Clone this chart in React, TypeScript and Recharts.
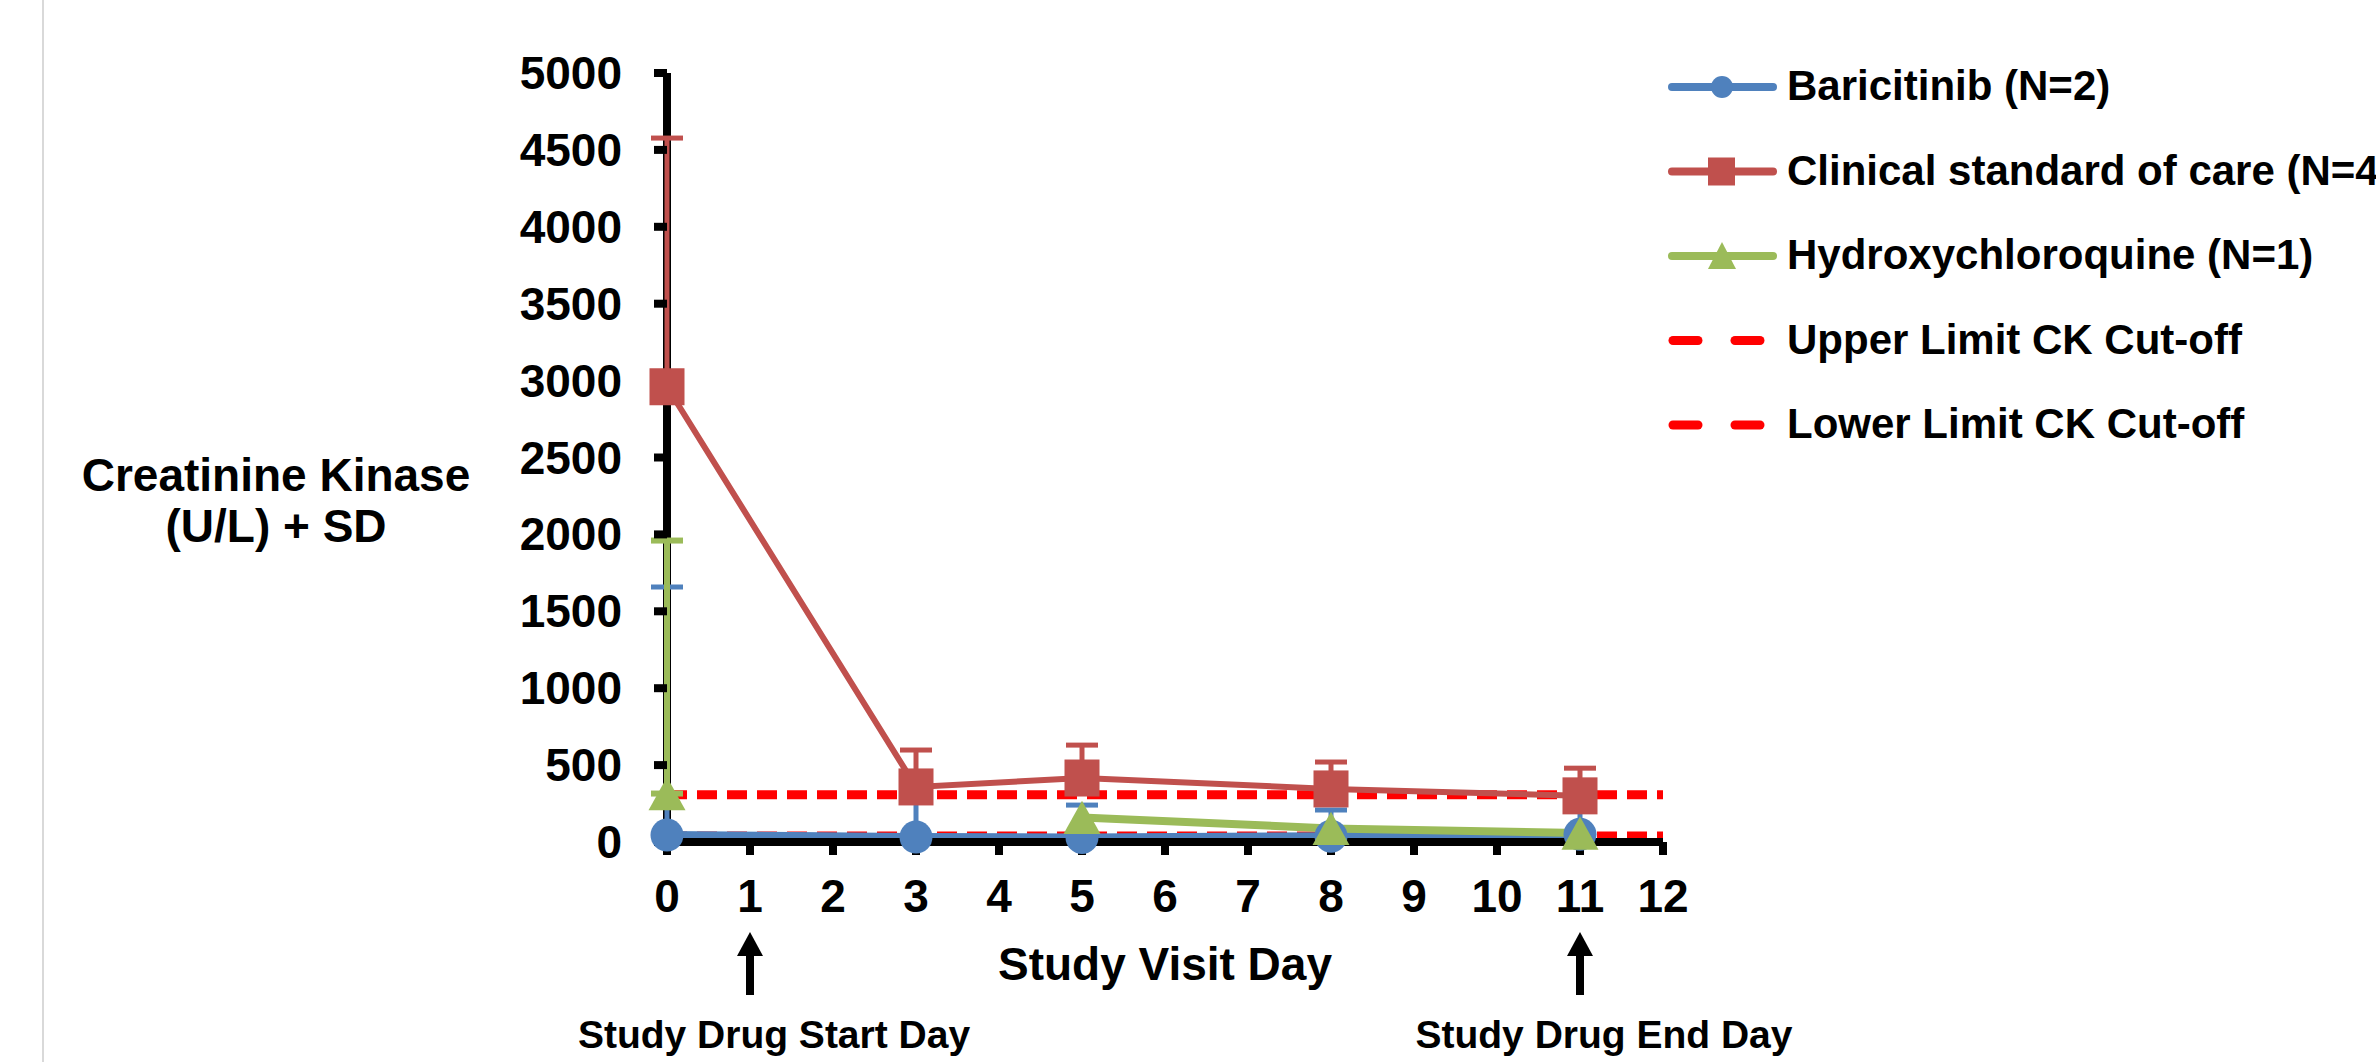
import React from 'react'
import { LineChart, Line, XAxis, YAxis, ErrorBar, ReferenceLine, Legend } from 'recharts'

const days = [0, 3, 5, 8, 11]
const baricitinib = [45, 32, 30, 38, 50]
const baricitinibSD = [1613, 270, 210, 170, 220]
const standardCare = [2960, 358, 416, 345, 300]
const standardCareSD = [1617, 240, 214, 175, 180]
const hydroxychloroquine = [315, null, 160, 88, 58]
const hydroxychloroquineSD = [1645, null, null, null, null]

const upperCutoff = 308
const lowerCutoff = 39

const xTicks = [0, 1, 2, 3, 4, 5, 6, 7, 8, 9, 10, 11, 12]
const yTicks = [0, 500, 1000, 1500, 2000, 2500, 3000, 3500, 4000, 4500, 5000]

const annotations = [
  { day: 1, text: 'Study Drug Start Day' },
  { day: 11, text: 'Study Drug End Day' },
]

const BLUE = '#4F81BD'
const RED = '#C0504D'
const GREEN = '#9BBB59'
const CUTOFF = '#FF0000'
const FONT = '"Liberation Sans", Arial, sans-serif'

const legendItems = [
  { label: 'Baricitinib (N=2)', color: BLUE, marker: 'circle' },
  { label: 'Clinical standard of care (N=4)', color: RED, marker: 'square' },
  { label: 'Hydroxychloroquine (N=1)', color: GREEN, marker: 'triangle' },
  { label: 'Upper Limit CK Cut-off', color: CUTOFF, marker: 'dash' },
  { label: 'Lower Limit CK Cut-off', color: CUTOFF, marker: 'dash' },
]

const data = days.map((day, i) => ({
  day,
  bari: baricitinib[i],
  bariErr: [0, baricitinibSD[i]],
  soc: standardCare[i],
  socErr: [0, standardCareSD[i]],
  hcq: hydroxychloroquine[i],
  hcqErr: hydroxychloroquineSD[i] == null ? null : [0, hydroxychloroquineSD[i]],
}))

function marker(kind: string, color: string, size: number) {
  return (props: any) => {
    const { cx, cy, index } = props
    if (cx == null || cy == null || props.value == null) return <g key={`m-${kind}-${index}`} />
    if (kind === 'circle') {
      return <circle key={`m-${kind}-${index}`} cx={cx} cy={cy} r={size / 2} fill={color} />
    }
    if (kind === 'square') {
      return <rect key={`m-${kind}-${index}`} x={cx - size / 2} y={cy - size / 2 - 1} width={size} height={size + 2} fill={color} />
    }
    const h = size * 0.9
    return (
      <path
        key={`m-${kind}-${index}`}
        d={`M${cx},${cy - h / 2} L${cx + size / 2},${cy + h / 2} L${cx - size / 2},${cy + h / 2} Z`}
        fill={color}
      />
    )
  }
}

const XTick = (props: any) => {
  const { x, y, payload } = props
  const note = annotations.find((a) => a.day === payload.value)
  return (
    <g>
      <text x={x} y={y + 57} textAnchor="middle" fontSize={46} fontWeight={700} fontFamily={FONT} fill="#000">
        {payload.value}
      </text>
      {note && (
        <g>
          <rect x={x - 4} y={y + 95} width={8} height={45} fill="#000" />
          <path d={`M${x},${y + 77} L${x + 13},${y + 101} L${x - 13},${y + 101} Z`} fill="#000" />
          <text x={x + 24} y={y + 193} textAnchor="middle" fontSize={39} fontWeight={700} fontFamily={FONT} fill="#000">
            {note.text}
          </text>
        </g>
      )}
    </g>
  )
}

const YTick = (props: any) => {
  const { x, y, payload } = props
  return (
    <text x={x - 32} y={y + 16} textAnchor="end" fontSize={46} fontWeight={700} fontFamily={FONT} fill="#000">
      {payload.value}
    </text>
  )
}

const YLabel = (props: any) => {
  const vb = props.viewBox
  const cx = vb.x - 271
  const mid = vb.y + vb.height / 2
  return (
    <text textAnchor="middle" fontSize={46} fontWeight={700} fontFamily={FONT} fill="#000">
      <tspan x={cx} y={mid + 33}>Creatinine Kinase</tspan>
      <tspan x={cx} y={mid + 84}>(U/L) + SD</tspan>
    </text>
  )
}

const XLabel = (props: any) => {
  const vb = props.viewBox
  return (
    <text x={vb.x + vb.width / 2} y={vb.y + 138} textAnchor="middle" fontSize={46} fontWeight={700} fontFamily={FONT} fill="#000">
      Study Visit Day
    </text>
  )
}

const LegendBox = () => (
  <svg width={736} height={440} style={{ overflow: 'hidden', display: 'block' }}>
    {legendItems.map((item, i) => {
      const cy = 47 + i * 84.5
      let icon = null
      if (item.marker === 'dash') {
        icon = (
          <g>
            <line x1={33} y1={cy} x2={58} y2={cy} stroke={item.color} strokeWidth={9} strokeLinecap="round" />
            <line x1={95} y1={cy} x2={120} y2={cy} stroke={item.color} strokeWidth={9} strokeLinecap="round" />
          </g>
        )
      } else {
        let m = null
        if (item.marker === 'circle') m = <circle cx={82} cy={cy} r={11} fill={item.color} />
        if (item.marker === 'square') m = <rect x={68} y={cy - 14} width={27} height={28} fill={item.color} />
        if (item.marker === 'triangle') m = <path d={`M82,${cy - 14} L96,${cy + 13} L68,${cy + 13} Z`} fill={item.color} />
        icon = (
          <g>
            <line x1={32} y1={cy} x2={133} y2={cy} stroke={item.color} strokeWidth={8} strokeLinecap="round" />
            {m}
          </g>
        )
      }
      return (
        <g key={item.label}>
          {icon}
          <text x={147} y={cy + 13} fontSize={42} fontWeight={700} fontFamily={FONT} fill="#000">
            {item.label}
          </text>
        </g>
      )
    })}
  </svg>
)

export default function App() {
  return (
    <div style={{ position: 'absolute', left: 0, top: 0, width: 2376, height: 1062, overflow: 'hidden', background: '#fff' }}>
      <div style={{ position: 'absolute', left: 42, top: 0, width: 2, height: 1062, background: '#d9d9d9' }} />
      <LineChart width={2376} height={1062} data={data} margin={{ top: 73, right: 713, bottom: 160, left: 547 }}>
        <XAxis
          dataKey="day"
          type="number"
          domain={[0, 12]}
          ticks={xTicks}
          interval={0}
          height={60}
          tickSize={13}
          tickMargin={0}
          axisLine={{ stroke: '#000', strokeWidth: 8 }}
          tickLine={{ stroke: '#000', strokeWidth: 8 }}
          tick={<XTick />}
          label={{ content: (p: any) => <XLabel {...p} /> }}
        />
        <YAxis
          type="number"
          domain={[0, 5000]}
          ticks={yTicks}
          interval={0}
          width={120}
          tickSize={13}
          tickMargin={0}
          axisLine={false}
          tickLine={{ stroke: '#000', strokeWidth: 8 }}
          tick={<YTick />}
          label={{ content: (p: any) => <YLabel {...p} /> }}
        />
        {/* y axis line drawn as a reference line so the error bars at day 0 sit above it */}
        <ReferenceLine x={0} stroke="#000" strokeWidth={8} />
        <ReferenceLine y={upperCutoff} stroke={CUTOFF} strokeWidth={9} strokeDasharray="20 10" />
        <ReferenceLine y={lowerCutoff} stroke={CUTOFF} strokeWidth={9} strokeDasharray="20 10" />
        <Line
          dataKey="bari"
          name="Baricitinib (N=2)"
          type="linear"
          stroke={BLUE}
          strokeWidth={8}
          dot={marker('circle', BLUE, 33)}
          activeDot={false}
          isAnimationActive={false}
        >
          <ErrorBar dataKey="bariErr" direction="y" width={16} strokeWidth={5} stroke={BLUE} />
        </Line>
        <Line
          dataKey="soc"
          name="Clinical standard of care (N=4)"
          type="linear"
          stroke={RED}
          strokeWidth={6}
          dot={marker('square', RED, 35)}
          activeDot={false}
          isAnimationActive={false}
        >
          <ErrorBar dataKey="socErr" direction="y" width={16} strokeWidth={5} stroke={RED} />
        </Line>
        <Line
          dataKey="hcq"
          name="Hydroxychloroquine (N=1)"
          type="linear"
          stroke={GREEN}
          strokeWidth={8}
          dot={marker('triangle', GREEN, 37)}
          activeDot={false}
          isAnimationActive={false}
        >
          <ErrorBar dataKey="hcqErr" direction="y" width={16} strokeWidth={6} stroke={GREEN} />
        </Line>
        <Legend
          layout="vertical"
          align="center"
          verticalAlign="middle"
          content={() => <LegendBox />}
          wrapperStyle={{ position: 'absolute', left: 1640, top: 40, width: 736, height: 440 }}
        />
      </LineChart>
    </div>
  )
}
